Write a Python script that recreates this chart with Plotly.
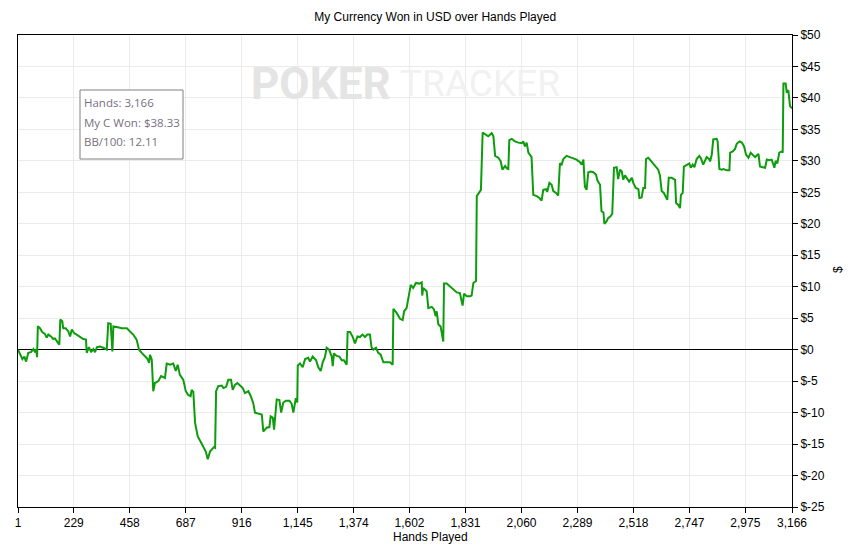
import plotly.graph_objects as go

# cumulative winnings
hands = [1, 9, 19, 27, 34, 43, 54, 64, 71, 75, 79, 82, 91, 100, 111, 118, 125, 136, 145, 152,
         163, 170, 174, 182, 186, 196, 207, 214, 221, 231, 241, 255, 268, 279, 282, 291, 300, 309,
         316, 324, 336, 350, 364, 370, 380, 387, 391, 405, 425, 446, 459, 472, 486, 496, 507, 520,
         531, 537, 541, 548, 554, 561, 575, 586, 602, 609, 623, 636, 646, 654, 663, 677, 687, 697,
         707, 711, 718, 725, 736, 749, 759, 769, 777, 786, 802, 807, 811, 820, 834, 841, 852, 861,
         872, 879, 888, 898, 909, 920, 929, 943, 953, 963, 970, 984, 998, 1004, 1018, 1029, 1034,
         1043, 1048, 1059, 1070, 1077, 1086, 1097, 1111, 1120, 1127, 1137, 1143, 1145, 1154, 1165,
         1175, 1188, 1195, 1206, 1220, 1229, 1239, 1247, 1256, 1263, 1273, 1284, 1288, 1293, 1304,
         1315, 1325, 1334, 1345, 1349, 1359, 1370, 1379, 1389, 1399, 1410, 1420, 1429, 1440, 1447,
         1454, 1465, 1474, 1484, 1495, 1509, 1522, 1533, 1536, 1550, 1563, 1574, 1580, 1590, 1597,
         1607, 1617, 1628, 1642, 1652, 1654, 1658, 1672, 1679, 1693, 1702, 1709, 1713, 1720, 1729,
         1740, 1743, 1754, 1768, 1781, 1795, 1808, 1819, 1825, 1836, 1849, 1856, 1863, 1874, 1877,
         1887, 1894, 1901, 1915, 1924, 1938, 1945, 1952, 1965, 1975, 1982, 1993, 2000, 2006, 2010,
         2020, 2033, 2047, 2061, 2067, 2074, 2081, 2088, 2101, 2108, 2122, 2133, 2142, 2149, 2160,
         2165, 2174, 2183, 2190, 2201, 2210, 2217, 2224, 2231, 2244, 2258, 2272, 2285, 2299, 2306,
         2313, 2319, 2326, 2333, 2343, 2354, 2365, 2370, 2381, 2387, 2395, 2399, 2408, 2414, 2424,
         2431, 2438, 2449, 2455, 2463, 2470, 2476, 2483, 2490, 2500, 2511, 2517, 2527, 2538, 2542,
         2551, 2558, 2565, 2569, 2578, 2585, 2595, 2606, 2613, 2619, 2626, 2633, 2642, 2651, 2656,
         2662, 2674, 2688, 2692, 2701, 2708, 2712, 2719, 2724, 2735, 2746, 2752, 2760, 2767, 2776,
         2787, 2794, 2803, 2810, 2817, 2827, 2831, 2838, 2844, 2858, 2862, 2869, 2879, 2886, 2899,
         2910, 2913, 2924, 2933, 2940, 2951, 2961, 2970, 2978, 2988, 2997, 3008, 3015, 3029, 3035,
         3046, 3056, 3063, 3072, 3083, 3090, 3094, 3099, 3106, 3114, 3124, 3128, 3131, 3140, 3144,
         3151, 3158, 3166]
won = [0.0, -0.8, -1.5, -1.1, -1.9, -0.5, -0.4, 0.1, -0.4, 0.1, -1.2, 3.7, 3.4, 2.8, 2.5, 1.9, 2.4,
       2.1, 1.7, 1.8, 1.1, 0.8, 4.8, 4.5, 3.4, 3.4, 2.9, 2.1, 3.2, 2.6, 2.4, 2.0, 1.7, 1.6, -0.5, 0.4,
       -0.4, 0.1, -0.4, 0.4, 0.5, 0.3, 0.0, 4.2, 4.1, -0.3, 3.7, 3.6, 3.4, 3.4, 2.9, 2.4, 1.6, 0.0,
       -0.5, -1.1, -1.5, -2.1, -0.8, -1.6, -6.6, -5.3, -5.0, -4.2, -4.5, -2.2, -2.4, -2.2, -3.4, -2.4,
       -4.0, -4.8, -6.6, -7.2, -7.4, -6.4, -6.7, -11.6, -13.8, -14.7, -15.6, -16.2, -17.4, -16.2,
       -15.5, -15.6, -6.6, -5.8, -5.7, -6.1, -5.9, -4.8, -4.8, -6.4, -5.6, -5.3, -5.7, -6.1, -6.9,
       -6.6, -7.4, -8.5, -10.0, -10.2, -10.3, -13.0, -12.4, -12.3, -10.6, -10.8, -12.7, -7.9, -8.0,
       -10.0, -8.4, -8.1, -8.1, -8.6, -10.0, -7.7, -8.4, -2.5, -2.2, -2.8, -1.5, -1.3, -1.9, -1.1,
       -1.7, -2.8, -3.4, -2.0, -1.2, 0.3, 0.0, -1.1, -2.6, -0.6, -1.0, -1.1, -1.7, -1.7, -2.4, 2.8,
       2.8, 2.0, 1.0, 2.1, 2.0, 2.4, 2.0, 2.4, 2.4, 0.3, 0.0, 0.3, -0.5, -0.8, -2.0, -2.0, -2.0, -2.4,
       6.5, 5.8, 4.9, 4.7, 6.1, 6.6, 8.2, 10.3, 9.8, 10.6, 10.5, 10.7, 8.6, 9.8, 9.3, 6.6, 6.8, 6.4,
       5.3, 6.1, 4.0, 3.7, 1.3, 10.5, 10.5, 10.0, 9.5, 9.1, 9.0, 7.0, 8.9, 8.5, 8.5, 8.6, 10.6, 10.9,
       24.4, 24.9, 25.4, 34.5, 34.2, 33.9, 34.4, 33.9, 30.8, 30.5, 29.9, 28.6, 29.2, 28.8, 28.7,
       33.3, 33.5, 33.1, 32.9, 32.8, 33.1, 32.3, 32.9, 31.3, 30.6, 24.6, 24.4, 24.1, 23.7, 25.4,
       25.5, 25.1, 26.5, 26.2, 25.2, 24.9, 24.5, 29.6, 29.4, 30.3, 30.8, 30.6, 30.3, 30.2, 29.8,
       29.4, 30.2, 25.9, 25.4, 28.2, 28.3, 28.2, 27.8, 26.9, 26.2, 22.0, 21.8, 20.0, 20.4, 20.9,
       21.2, 21.6, 28.9, 29.0, 27.1, 28.6, 28.3, 27.0, 27.7, 27.3, 26.7, 27.3, 26.5, 25.7, 25.5,
       24.1, 24.2, 25.7, 25.7, 30.3, 30.5, 30.2, 29.7, 29.1, 28.8, 28.6, 27.7, 25.2, 24.9, 24.1,
       23.8, 27.3, 27.3, 27.0, 23.3, 23.0, 22.5, 24.6, 24.9, 29.1, 29.4, 29.6, 28.9, 29.4, 29.0,
       30.3, 30.8, 30.4, 29.4, 30.1, 30.6, 30.3, 29.9, 31.0, 33.4, 33.5, 33.1, 28.7, 28.6, 28.7,
       28.5, 28.5, 31.3, 31.5, 31.9, 32.7, 33.1, 32.9, 32.3, 31.0, 30.5, 31.3, 30.8, 30.6, 31.1,
       29.1, 29.0, 28.9, 30.2, 30.1, 30.2, 29.4, 28.9, 30.0, 29.6, 31.3, 31.5, 31.3, 42.3, 42.3,
       41.0, 41.2, 38.7, 38.33]

x_ticks = [1, 229, 458, 687, 916, 1145, 1374, 1602, 1831, 2060, 2289, 2518, 2747, 2975, 3166]
y_ticks = [-25, -20, -15, -10, -5, 0, 5, 10, 15, 20, 25, 30, 35, 40, 45, 50]

summary_lines = ["Hands: 3,166", "My C Won: $38.33", "BB/100: 12.11"]

fig = go.Figure()
fig.add_trace(go.Scatter(x=hands, y=won, mode="lines",
                         line=dict(color="#0c9c0c", width=2), hoverinfo="skip"))

font = dict(family="Liberation Sans, Arial", size=12, color="black")

fig.update_layout(
    width=860, height=547,
    margin=dict(l=18, r=68, t=35, b=40, autoexpand=False),
    paper_bgcolor="white", plot_bgcolor="white",
    showlegend=False,
    font=font,
    title=dict(text="My Currency Won in USD over Hands Played", x=0.506, xanchor="center",
               y=1 - 17 / 547, yanchor="middle", yref="container",
               font=dict(family="Liberation Sans, Arial", size=12, color="black")),
)

fig.update_xaxes(range=[1, 3166], tickvals=x_ticks,
                 ticktext=[f"{v:,}" for v in x_ticks], automargin=False,
                 showgrid=True, gridcolor="#ebebeb", gridwidth=1,
                 showline=True, linecolor="black", linewidth=1, mirror=True,
                 ticks="outside", ticklen=5, tickcolor="black", zeroline=False)
fig.update_yaxes(range=[-25, 50], tickvals=y_ticks,
                 ticktext=[f"${v}" for v in y_ticks], side="right", automargin=False,
                 showgrid=True, gridcolor="#ebebeb", gridwidth=1,
                 showline=True, linecolor="black", linewidth=1, mirror=True,
                 ticks="outside", ticklen=5, tickcolor="black",
                 zeroline=True, zerolinecolor="black", zerolinewidth=1)

# axis titles
fig.add_annotation(text="Hands Played", xref="paper", yref="paper", x=(430 - 18) / 774, y=0,
                   yshift=-30, xanchor="center", yanchor="middle", showarrow=False, font=font)
fig.add_annotation(text="$", xref="paper", yref="paper", x=(838 - 18) / 774, y=(507 - 270) / 472,
                   textangle=-90, xanchor="center", yanchor="middle", showarrow=False, font=font)

# watermark
fig.add_annotation(text="<b>POKER</b>", xref="paper", yref="paper", x=(393 - 18) / 774,
                   y=(507 - 84) / 472, xanchor="right", yanchor="middle", showarrow=False,
                   font=dict(family="Roboto", size=44, color="#e4e4e4"))
fig.add_annotation(text="TRACKER", xref="paper", yref="paper", x=(398 - 18) / 774,
                   y=(507 - 84) / 472, xanchor="left", yanchor="middle", showarrow=False,
                   font=dict(family="Roboto", size=37, color="#f1f1f1"))

# summary box
fig.add_shape(type="rect", xref="paper", yref="paper",
              x0=(80 - 18) / 774, x1=(183 - 18) / 774,
              y0=(507 - 159) / 472, y1=(507 - 90) / 472,
              line=dict(color="#808080", width=1), fillcolor="white")
for i, line in enumerate(summary_lines):
    fig.add_annotation(text=line, xref="paper", yref="paper", x=(82 - 18) / 774,
                       y=(507 - (103 + 19.5 * i)) / 472, xanchor="left", yanchor="middle",
                       showarrow=False,
                       font=dict(family="Open Sans", size=11.5, color="#75707f"))

fig.write_html("out.html", config={"displayModeBar": False},
               post_script="document.body.style.margin='0';")
